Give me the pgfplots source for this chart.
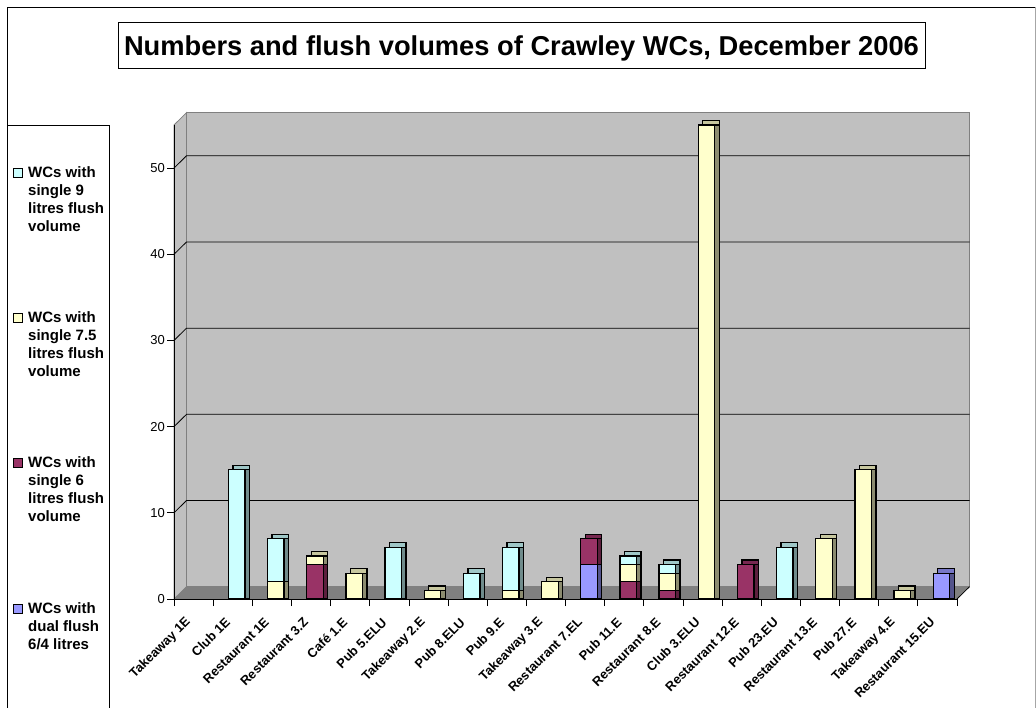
\documentclass[border=0pt]{standalone}
\usepackage{pgfplots}
\pgfplotsset{compat=1.18}
\usepackage{pgfplotstable}
\usepackage{fontspec}
\setmainfont{Liberation Sans}

\definecolor{nine}{RGB}{204,255,255}
\definecolor{seven}{RGB}{255,255,204}
\definecolor{six}{RGB}{153,51,102}
\definecolor{dual}{RGB}{153,153,255}
\colorlet{nineS}{nine!55!black}
\colorlet{sevenS}{seven!55!black}
\colorlet{sixS}{six!60!black}
\colorlet{dualS}{dual!55!black}
\colorlet{nineT}{nine!78!black}
\colorlet{sevenT}{seven!78!black}
\colorlet{sixT}{six!78!black}
\colorlet{dualT}{dual!78!black}
\definecolor{wall}{RGB}{192,192,192}
\definecolor{floorc}{RGB}{128,128,128}

% WCs per premises: dual 6/4, single 6 l, single 7.5 l, single 9 l
\pgfplotstableread{
x dual six seven nine
0 0 0 0 0
1 0 0 0 15
2 0 0 2 5
3 0 4 1 0
4 0 0 3 0
5 0 0 0 6
6 0 0 1 0
7 0 0 0 3
8 0 0 1 5
9 0 0 2 0
10 4 3 0 0
11 0 2 2 1
12 0 1 2 1
13 0 0 55 0
14 0 4 0 0
15 0 0 0 6
16 0 0 7 0
17 0 0 15 0
18 0 0 1 0
19 3 0 0 0
}\wcdata

\pgfplotsset{
  wcbase/.style={scale only axis, width=783pt, height=474pt,
    xmin=-0.5, xmax=19.5, ymin=0, ymax=55, clip=false},
  wclayer/.style={wcbase, axis lines=none, ticks=none, ybar stacked,
    bar width=16.5pt, restrict x to domain=0.5:19.5},
}
\newcommand\wcbars[4]{%
  \addplot[fill=#1, draw=black, line width=1.3pt] table[x=x, y=dual]{\wcdata};
  \addplot[fill=#2, draw=black, line width=1.3pt] table[x=x, y=six]{\wcdata};
  \addplot[fill=#3, draw=black, line width=1.3pt] table[x=x, y=seven]{\wcdata};
  \addplot[fill=#4, draw=black, line width=1.3pt] table[x=x, y=nine]{\wcdata};
}
\newcommand\legentry[3]{%
  \fill[#2, draw=black, line width=0.8pt] (13pt,{-(#1-9)*1pt}) rectangle (22.5pt,{-#1*1pt});
  \foreach \t [count=\i from 0] in {#3} {
    \node[anchor=base west, inner sep=0pt, font=\fontsize{15}{18}\selectfont\bfseries]
      at (28pt,{-(#1+18*\i)*1pt}) {\t};
  }
}

\begin{document}
\begin{tikzpicture}
\useasboundingbox (0,0) rectangle (1036pt,-707pt);
% outer frame
\draw[black, line width=1pt] (1035pt,-7pt) -- (7pt,-7pt) -- (7pt,-720pt);
\draw[black!35, line width=0.8pt] (1035pt,-7pt) -- (1035pt,-720pt);
% title
\draw[black, line width=0.8pt] (118pt,-22pt) rectangle (925pt,-68pt);
\node[anchor=base, inner sep=0pt, font=\fontsize{27.3}{32}\selectfont\bfseries]
  at (521.5pt,-55pt) {Numbers and flush volumes of Crawley WCs, December 2006};
% legend
\draw[black, line width=0.8pt] (7pt,-125pt) rectangle (109pt,-720pt);
\legentry{177}{nine}{WCs with, single 9, litres flush, volume}
\legentry{322.4}{seven}{WCs with, single 7.5, litres flush, volume}
\legentry{467.8}{six}{WCs with, single 6, litres flush, volume}
\legentry{613.2}{dual}{WCs with, dual flush, 6/4 litres}

% walls, floor, grid, axes
\begin{axis}[wcbase, at={(174pt,-599pt)}, anchor=south west,
  axis on top,
  axis x line*=bottom, axis y line*=left,
  axis line style={black, line width=0.8pt},
  tick style={black, line width=0.8pt},
  tick align=outside,
  major tick length=7pt, minor tick length=7pt,
  ytick={0,10,...,50},
  xtick={0,...,19},
  minor xtick={-0.5,0.5,...,19.5},
  major x tick style={draw=none},
  xticklabels={Takeaway 1E, Club 1E, Restaurant 1E, Restaurant 3.Z, Café 1.E,
    Pub 5.ELU, Takeaway 2.E, Pub 8.ELU, Pub 9.E, Takeaway 3.E, Restaurant 7.EL,
    Pub 11.E, Restaurant 8.E, Club 3.ELU, Restaurant 12.E, Pub 23.EU,
    Restaurant 13.E, Pub 27.E, Takeaway 4.E, Restaurant 15.EU},
  xticklabel style={xshift=-5pt, yshift=-14pt, rotate=45, anchor=east, inner sep=0pt,
    font=\fontsize{12.9}{15}\selectfont\bfseries},
  yticklabel style={inner sep=2pt, font=\fontsize{13}{15}\selectfont},
  /pgf/number format/assume math mode=true,
]
\fill[wall, draw=floorc, line width=0.8pt]
  ([shift={(12.5pt,12.3pt)}]axis cs:-0.5,0) rectangle ([shift={(12.5pt,12.3pt)}]axis cs:19.5,55);
\fill[wall, draw=floorc, line width=0.8pt]
  (axis cs:-0.5,0) -- (axis cs:-0.5,55) -- ++(12.5pt,12.3pt)
  -- ([shift={(12.5pt,12.3pt)}]axis cs:-0.5,0) -- cycle;
\fill[floorc]
  (axis cs:-0.5,0) -- (axis cs:19.5,0) -- ++(12.5pt,12.3pt)
  -- ([shift={(12.5pt,12.3pt)}]axis cs:-0.5,0) -- cycle;
\draw[black, line width=0.8pt] (axis cs:19.5,0) -- ++(12.5pt,12.3pt);
\pgfplotsinvokeforeach{10,20,30,40,50}{
  \draw[black, line width=0.8pt] (axis cs:-0.5,#1) -- ++(12.5pt,12.3pt)
    -- ([shift={(12.5pt,12.3pt)}]axis cs:19.5,#1);
}
\end{axis}

% bar tops (shifted back and up)
\begin{axis}[wclayer, at={(182.5pt,-594.5pt)}, anchor=south west]
\wcbars{dualT}{sixT}{sevenT}{nineT}
\end{axis}
% bar sides
\begin{axis}[wclayer, at={(182.5pt,-599pt)}, anchor=south west]
\wcbars{dualS}{sixS}{sevenS}{nineS}
\end{axis}
% bar fronts
\begin{axis}[wclayer, at={(178pt,-599pt)}, anchor=south west]
\wcbars{dual}{six}{seven}{nine}
\end{axis}
\end{tikzpicture}
\end{document}
